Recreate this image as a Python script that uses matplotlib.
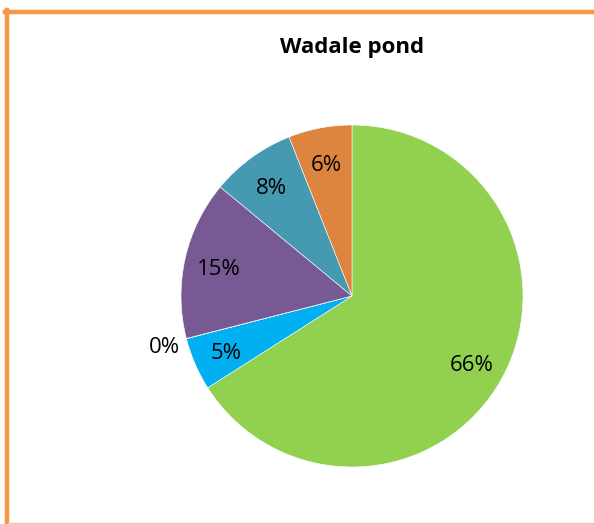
import numpy as np
import matplotlib.pyplot as plt
from matplotlib.lines import Line2D

# data (clockwise from 12 o'clock)
labels = ['A', 'B', 'C', 'D', 'E', 'F']
values = [66, 5, 0.02, 15, 8, 6]
pct_text = ['66%', '5%', '0%', '15%', '8%', '6%']
colors = ['#92D050', '#00B0F0', '#775A93', '#775A93', '#4599B1', '#DD843F']

plt.rcParams['font.family'] = ['Open Sans', 'DejaVu Sans']

W, H = 594, 524
fig = plt.figure(figsize=(W / 100, H / 100), dpi=100)

cx, cy, r = 352, 296, 171
ax = fig.add_axes([(cx - r) / W, (H - cy - r) / H, 2 * r / W, 2 * r / H])

wedges, texts = ax.pie(values, colors=colors, startangle=90, counterclock=False,
                       radius=1, wedgeprops=dict(linewidth=0.4, edgecolor='white'))

# percentage labels
for w, t in zip(wedges, pct_text):
    ang = np.deg2rad((w.theta1 + w.theta2) / 2)
    d = 1.13 if t == '0%' else 0.8
    ax.text(d * np.cos(ang), d * np.sin(ang) - 0.02, t, ha='center', va='center',
            fontsize=16, color='black')

ax.set_xlim(-1, 1)
ax.set_ylim(-1, 1)
ax.set_aspect('equal')
ax.axis('off')

fig.text(cx / W, 1 - 48 / H, 'Wadale pond', ha='center', va='center',
         fontsize=16, fontweight='bold')

# chart border
orange = '#F79646'
fig.add_artist(Line2D([5 / W, 1], [1 - 11.5 / H] * 2, color=orange, lw=3.2))
fig.add_artist(Line2D([6.5 / W] * 2, [0, 1 - 10 / H], color=orange, lw=3.2))
fig.add_artist(Line2D([8 / W, 1], [1.5 / H] * 2, color='#E0C8B8', lw=1))

fig.savefig('out.png', dpi=100)
